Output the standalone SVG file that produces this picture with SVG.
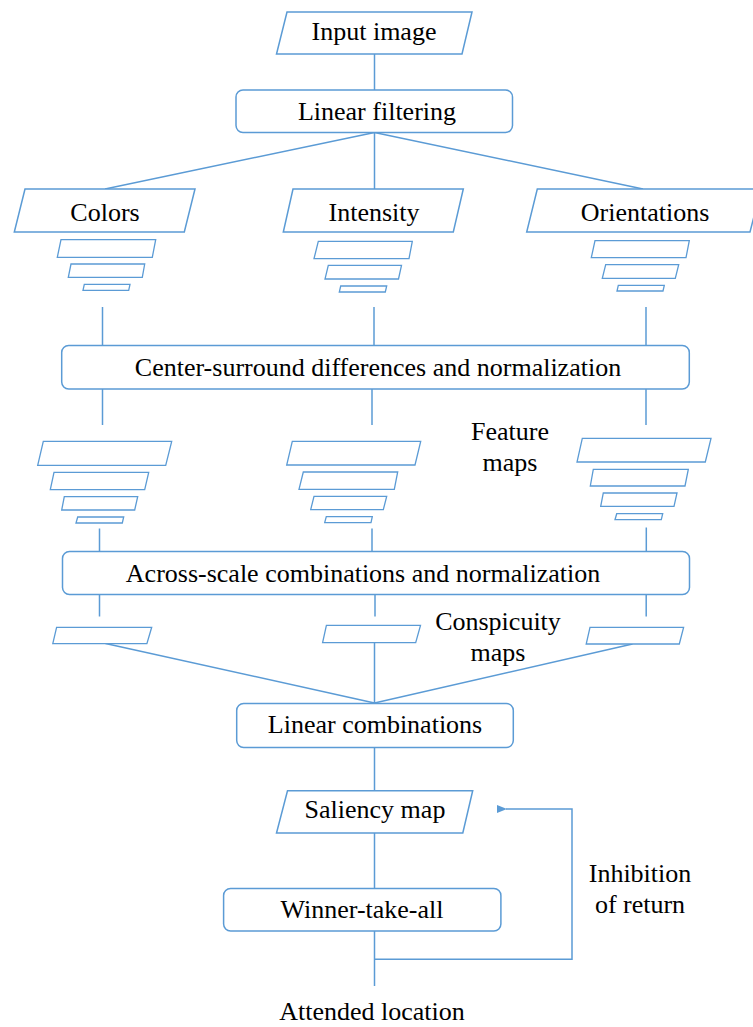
<svg xmlns="http://www.w3.org/2000/svg" width="753" height="1027" viewBox="0 0 753 1027">
  <style>
    .shape { fill: #ffffff; stroke: #5b9bd5; stroke-width: 1.5; stroke-linejoin: miter; }
    .map { fill: #ffffff; stroke: #5b9bd5; stroke-width: 1.3; }
    .link { fill: none; stroke: #5b9bd5; stroke-width: 1.5; }
    .label { font-family: "Liberation Serif", "Times New Roman", serif; font-size: 26px; fill: #000000; text-anchor: middle; }
  </style>
  <defs>
    <marker id="arrow" markerWidth="10" markerHeight="8" refX="1" refY="4" orient="auto" markerUnits="userSpaceOnUse">
      <path d="M10,0 L0,4 L10,8 Z" fill="#5b9bd5"/>
    </marker>
  </defs>
  <rect width="753" height="1027" fill="#ffffff"/>

  <!-- connectors -->
  <g id="connectors">
    <line class="link" x1="374.5" y1="54" x2="374.5" y2="90"/>
    <line class="link" x1="374.5" y1="132.5" x2="105" y2="189"/>
    <line class="link" x1="374.5" y1="132.5" x2="374.5" y2="189"/>
    <line class="link" x1="374.5" y1="132.5" x2="643" y2="189"/>
    <line class="link" x1="102.5" y1="307" x2="102.5" y2="345.5"/>
    <line class="link" x1="374" y1="307" x2="374" y2="345.5"/>
    <line class="link" x1="646" y1="307" x2="646" y2="345.5"/>
    <line class="link" x1="102.5" y1="389" x2="102.5" y2="425"/>
    <line class="link" x1="372" y1="389" x2="372" y2="425"/>
    <line class="link" x1="646" y1="389" x2="646" y2="425"/>
    <line class="link" x1="99.5" y1="528.5" x2="99.5" y2="551.5"/>
    <line class="link" x1="372" y1="528.5" x2="372" y2="551.5"/>
    <line class="link" x1="646.3" y1="527.5" x2="646.3" y2="551.5"/>
    <line class="link" x1="99.5" y1="594.5" x2="99.5" y2="616.5"/>
    <line class="link" x1="375" y1="594.5" x2="375" y2="616.5"/>
    <line class="link" x1="646.2" y1="594.5" x2="646.2" y2="616.5"/>
    <line class="link" x1="105.5" y1="643.5" x2="374.5" y2="703"/>
    <line class="link" x1="374.5" y1="642.5" x2="374.5" y2="703"/>
    <line class="link" x1="632.5" y1="644" x2="374.5" y2="703"/>
    <line class="link" x1="374.5" y1="747.5" x2="374.5" y2="790.5"/>
    <line class="link" x1="374.5" y1="833" x2="374.5" y2="888.5"/>
    <line class="link" x1="374.5" y1="931" x2="374.5" y2="986"/>
    <polyline class="link" points="374.5,959.3 572,959.3 572,809 506,809" marker-end="url(#arrow)"/>
  </g>

  <!-- input stage -->
  <g id="input-image">
    <polygon class="shape" points="287,12 472,12 462,54 276.5,54"/>
    <text class="label" x="374" y="40">Input image</text>
  </g>
  <g id="linear-filtering">
    <rect class="shape" x="236" y="90" width="276.5" height="42.5" rx="7"/>
    <text class="label" x="377" y="120">Linear filtering</text>
  </g>

  <!-- feature channels -->
  <g id="colors">
    <polygon class="shape" points="25,189 195,189 184.3,232 14.3,232"/>
    <text class="label" x="105" y="221">Colors</text>
  </g>
  <g id="intensity">
    <polygon class="shape" points="293,189 463.3,189 453.3,232 283.3,232"/>
    <text class="label" x="374" y="221">Intensity</text>
  </g>
  <g id="orientations">
    <polygon class="shape" points="537.3,189 761,189 750,232 526.7,232"/>
    <text class="label" x="645" y="221">Orientations</text>
  </g>

  <!-- gaussian pyramids -->
  <g id="colors-pyramid">
    <polygon class="map" points="61,239.7 155.7,239.7 152.3,257.3 57.3,257.3"/>
    <polygon class="map" points="71,264 144.7,264 142.3,277.3 68.3,277.3"/>
    <polygon class="map" points="84.3,284.3 130,284.3 128.7,290.3 83,290.3"/>
  </g>
  <g id="intensity-pyramid">
    <polygon class="map" points="318.3,241.3 412.3,241.3 409,258.7 314,258.7"/>
    <polygon class="map" points="328.3,265.3 401.5,265.3 398.5,279 325,279"/>
    <polygon class="map" points="340.7,286 386.7,286 385.3,292 339.3,292"/>
  </g>
  <g id="orientations-pyramid">
    <polygon class="map" points="595,240.7 689.3,240.7 686,257.7 591.3,257.7"/>
    <polygon class="map" points="605.7,264.7 678.7,264.7 675.3,278.3 602.3,278.3"/>
    <polygon class="map" points="618.3,285.3 664.3,285.3 663,291 617,291"/>
  </g>

  <g id="center-surround">
    <rect class="shape" x="61.7" y="345.5" width="627.6" height="43.5" rx="7"/>
    <text class="label" x="378" y="376">Center-surround differences and normalization</text>
  </g>

  <!-- feature maps -->
  <g id="colors-feature-maps">
    <polygon class="map" points="43.3,441.3 171.7,441.3 165.7,465.3 37.7,465.3"/>
    <polygon class="map" points="54,472.3 148.7,472.3 144.7,489.7 50.3,489.7"/>
    <polygon class="map" points="64.3,496.7 137.7,496.7 134.7,510 61.7,510"/>
    <polygon class="map" points="77.7,517 123.7,517 122.3,523 76,523"/>
  </g>
  <g id="intensity-feature-maps">
    <polygon class="map" points="292.3,441.3 420.7,441.3 415,465 286.7,465"/>
    <polygon class="map" points="303.3,472 397.7,472 394.3,489.3 299,489.3"/>
    <polygon class="map" points="314,496.3 386.7,496.3 383.3,509.7 310.7,509.7"/>
    <polygon class="map" points="326.3,516.7 372.3,516.7 371,522.7 324.7,522.7"/>
  </g>
  <g id="orientations-feature-maps">
    <polygon class="map" points="582.3,438.3 711,438.3 705.3,462 577,462"/>
    <polygon class="map" points="593.3,469.3 688.3,469.3 685,486 590.3,486"/>
    <polygon class="map" points="603.3,493 677,493 674,506.3 600.7,506.3"/>
    <polygon class="map" points="616.7,513.7 662.7,513.7 661.3,519.7 615,519.7"/>
  </g>
  <g id="feature-maps-label">
    <text class="label" x="510" y="440">Feature</text>
    <text class="label" x="510" y="471">maps</text>
  </g>

  <g id="across-scale">
    <rect class="shape" x="62.5" y="551.5" width="627" height="43" rx="7"/>
    <text class="label" x="363" y="582">Across-scale combinations and normalization</text>
  </g>

  <!-- conspicuity maps -->
  <g id="conspicuity-maps">
    <polygon class="map" points="56.6,627.3 151.7,627.3 146.9,643.7 52.8,643.7"/>
    <polygon class="map" points="326.4,625.3 420.5,625.3 415.7,642.7 322.6,642.7"/>
    <polygon class="map" points="590,627.3 683.6,627.3 679.3,644 586.2,644"/>
  </g>
  <g id="conspicuity-maps-label">
    <text class="label" x="498" y="630">Conspicuity</text>
    <text class="label" x="498" y="661">maps</text>
  </g>

  <g id="linear-combinations">
    <rect class="shape" x="236.7" y="703.5" width="276.6" height="44" rx="7"/>
    <text class="label" x="375" y="733">Linear combinations</text>
  </g>

  <g id="saliency-map">
    <polygon class="shape" points="287.5,790.7 472.7,790.7 462.8,833 276.5,833"/>
    <text class="label" x="375" y="818">Saliency map</text>
  </g>

  <g id="winner-take-all">
    <rect class="shape" x="223.6" y="888.5" width="277.3" height="42.5" rx="7"/>
    <text class="label" x="362" y="918">Winner-take-all</text>
  </g>

  <g id="inhibition-label">
    <text class="label" x="640" y="882">Inhibition</text>
    <text class="label" x="640" y="913">of return</text>
  </g>

  <g id="attended-location">
    <text class="label" x="372" y="1020">Attended location</text>
  </g>
</svg>
